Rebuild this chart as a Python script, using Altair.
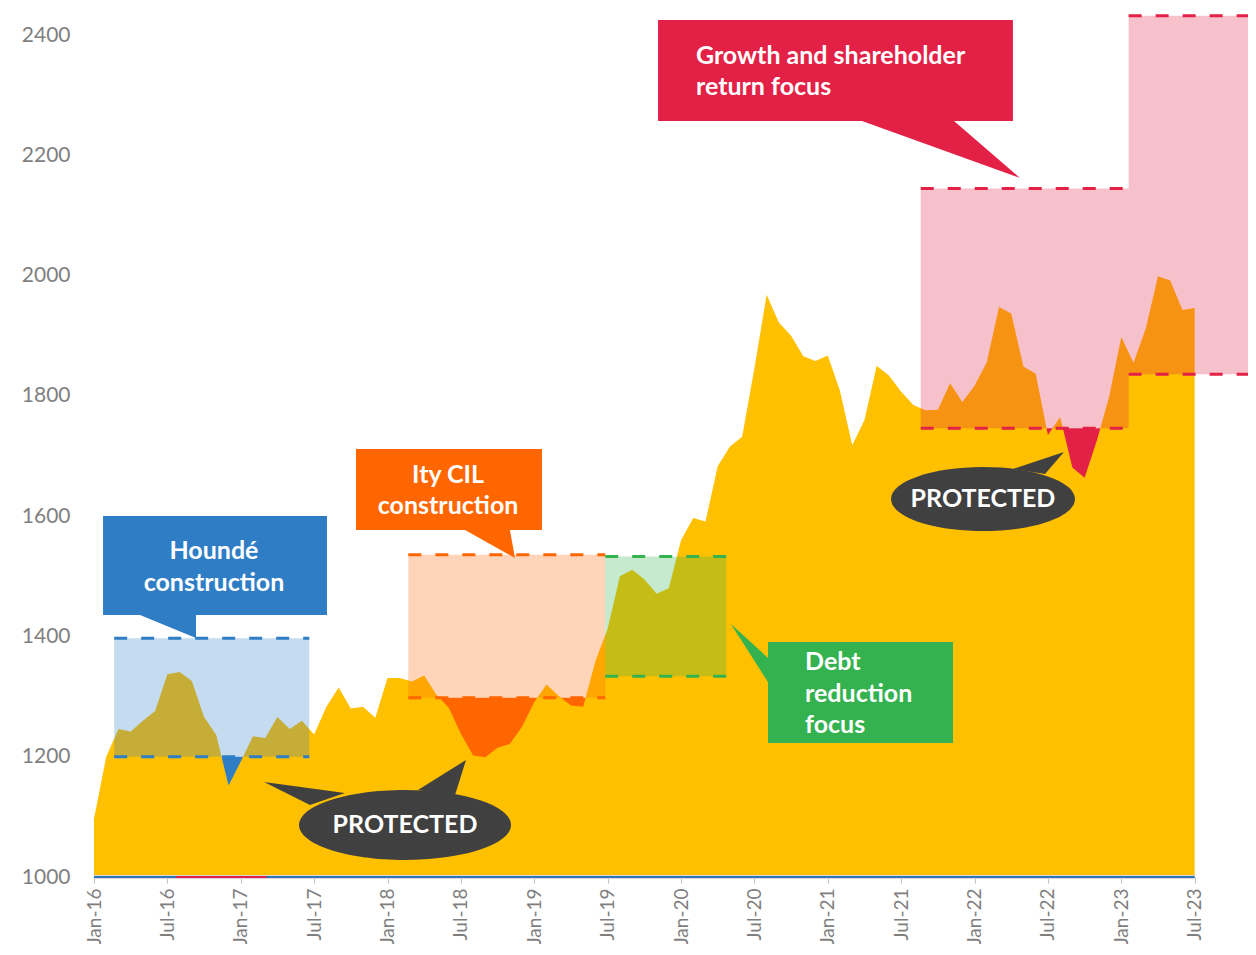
import json
import altair as alt
import pandas as pd

# ---------------- data ----------------
# monthly gold price (US$/oz), Jan-16 .. Jul-23 (month index 0..90)
price = [
    1097, 1200, 1246, 1242, 1260, 1276, 1337, 1341, 1326, 1266, 1236, 1152,
    1192, 1234, 1231, 1266, 1246, 1260, 1237, 1283, 1315, 1280, 1283, 1265,
    1331, 1331, 1325, 1335, 1303, 1282, 1238, 1202, 1199, 1215, 1221, 1250,
    1291, 1320, 1301, 1285, 1283, 1359, 1413, 1500, 1511, 1495, 1471, 1480,
    1560, 1597, 1591, 1683, 1716, 1732, 1846, 1968, 1922, 1900, 1866, 1858,
    1867, 1808, 1718, 1760, 1850, 1834, 1807, 1785, 1776, 1777, 1821, 1790,
    1817, 1856, 1948, 1937, 1849, 1837, 1735, 1765, 1681, 1664, 1726, 1798,
    1898, 1855, 1912, 1999, 1992, 1943, 1946,
]
months = list(range(len(price)))
tick_months = list(range(0, 91, 6))
tick_labels = ["Jan-16", "Jul-16", "Jan-17", "Jul-17", "Jan-18", "Jul-18", "Jan-19", "Jul-19",
               "Jan-20", "Jul-20", "Jan-21", "Jul-21", "Jan-22", "Jul-22", "Jan-23", "Jul-23"]
y_ticks = [1000, 1200, 1400, 1600, 1800, 2000, 2200, 2400]

# hedge / price-protection bands (month index start/end, floor, cap)
band_start = [1.65, 25.7, 41.8, 67.6, 84.6]
band_end = [17.6, 41.8, 51.7, 84.6, 94.4]
band_floor = [1200, 1298, 1334, 1746, 1836]
band_cap = [1397, 1536, 1533, 2145, 2432]
band_color = ["#2E7DC5", "#FF6600", "#33B24F", "#E32045", "#E32045"]
band_protected = [True, True, False, True, False]

# callout boxes (data units)
call_x0 = [0.74, 21.42, 55.11, 46.12]
call_x1 = [19.05, 36.63, 70.24, 75.14]
call_y0 = [1435.7, 1577.0, 1222.8, 2257.1]
call_y1 = [1600.3, 1711.7, 1390.8, 2425.0]
call_color = ["#2E7DC5", "#FF6600", "#33B24F", "#E32045"]

# callout pointers (triangles, data units)
ptr_id = ["b", "b", "b", "o", "o", "o", "g", "g", "g", "r", "r", "r",
          "p1", "p1", "p1", "p2", "p2", "p2", "p3", "p3", "p3"]
ptr_x = [3.76, 8.34, 8.34, 30.34, 34.42, 34.01, 52.08, 55.11, 55.11, 62.80, 70.32, 75.71,
         13.90, 20.52, 17.66, 30.42, 26.49, 29.52, 79.31, 75.14, 77.76]
ptr_y = [1435.7, 1397.4, 1435.7, 1577.0, 1530.4, 1577.0, 1420.7, 1364.2, 1324.2,
         2257.1, 2257.1, 2162.3, 1158.0, 1139.7, 1119.7, 1194.6, 1144.7, 1136.4,
         1706.7, 1678.4, 1670.1]
ptr_color = ["#2E7DC5"] * 3 + ["#FF6600"] * 3 + ["#33B24F"] * 3 + ["#E32045"] * 3 + ["#404040"] * 9

# callout text lines
txt = ["Houndé", "construction", "Ity CIL", "construction", "Debt", "reduction", "focus",
       "Growth and shareholder", "return focus"]
txt_x = [9.81, 9.81, 28.95, 28.95, 58.14, 58.14, 58.14, 49.22, 49.22]
txt_y = [1528.8, 1475.6, 1655.2, 1603.6, 1344.2, 1291.0, 1239.4, 2351.9, 2300.3]
txt_align = ["center", "center", "center", "center", "left", "left", "left", "left", "left"]

# "PROTECTED" bubbles
prot_x = [25.43, 72.69]
prot_y = [1086.5, 1628.5]
prot_text_y = [1073.2, 1615.0]
prot_w = [212, 184]
prot_ratio = [0.330, 0.348]

# ---------------- chart ----------------
xs = alt.Scale(domain=[0, 94.36], nice=False, zero=False)
ys = alt.Scale(domain=[1000, 2445], nice=False, zero=False)

label_expr = json.dumps(tick_labels) + "[round(datum.value/6)]"
AX = alt.Axis(values=tick_months, labelExpr=label_expr, labelAngle=270, domain=False,
              ticks=True, tickColor="#BFBFBF", tickSize=6, tickWidth=1, grid=False,
              labelFont="Lato", labelFontSize=19, labelColor="#7F7F7F", labelPadding=5,
              labelOverlap=False, title=None)
AY = alt.Axis(values=y_ticks, format="d", domain=False, ticks=False, grid=False,
              labelFont="Lato", labelFontSize=21, labelColor="#7F7F7F", labelPadding=24,
              title=None)


def X(f):
    return alt.X(f, scale=xs, axis=AX)


def Y(f):
    return alt.Y(f, scale=ys, axis=AY)


df_price = pd.DataFrame({"m": months, "price": price})
df_band = pd.DataFrame({"s": band_start, "e": band_end, "f": band_floor, "c": band_cap,
                        "col": band_color, "p": band_protected})
df_lines = pd.concat([
    pd.DataFrame({"s": band_start, "e": band_end, "v": band_floor, "col": band_color}),
    pd.DataFrame({"s": band_start, "e": band_end, "v": band_cap, "col": band_color}),
])
df_call = pd.DataFrame({"x0": call_x0, "x1": call_x1, "y0": call_y0, "y1": call_y1,
                        "col": call_color})
df_ptr = pd.DataFrame({"id": ptr_id, "x": ptr_x, "y": ptr_y, "col": ptr_color,
                       "i": list(range(len(ptr_id)))})
df_txt = pd.DataFrame({"t": txt, "x": txt_x, "y": txt_y, "a": txt_align})

protected = alt.Chart(df_band[df_band["p"]]).mark_rect().encode(
    x=X("s:Q"), x2="e:Q", y=Y("f:Q"), y2=alt.datum(1000),
    color=alt.Color("col:N", scale=None),
)

gold = alt.Chart(df_price).mark_area(color="#FFC000").encode(
    x=X("m:Q"), y=Y("price:Q"), y2=alt.datum(1000),
)

bands = alt.Chart(df_band).mark_rect(opacity=0.28).encode(
    x=X("s:Q"), x2="e:Q", y=Y("f:Q"), y2="c:Q",
    color=alt.Color("col:N", scale=None),
)

dashes = alt.Chart(df_lines).mark_rule(strokeWidth=3, strokeDash=[13, 14]).encode(
    x=X("s:Q"), x2="e:Q", y=Y("v:Q"),
    color=alt.Color("col:N", scale=None),
)

df_base = pd.DataFrame({"s": [0, 0, 6.7], "e": [90, 90, 14.1], "v": [1000, 1000, 1000],
                        "col": ["#D9D9D9", "#2E75B6", "#E32045"], "w": [4, 2, 2]})
baseline = alt.Chart(df_base).mark_rule().encode(
    x=X("s:Q"), x2="e:Q", y=Y("v:Q"),
    color=alt.Color("col:N", scale=None),
    strokeWidth=alt.StrokeWidth("w:Q", scale=None),
)

callouts = alt.Chart(df_call).mark_rect().encode(
    x=X("x0:Q"), x2="x1:Q", y=Y("y0:Q"), y2="y1:Q",
    color=alt.Color("col:N", scale=None),
)

pointers = alt.Chart(df_ptr).mark_line(filled=True, strokeWidth=0.5).encode(
    x=X("x:Q"), y=Y("y:Q"), detail="id:N", order="i:Q",
    color=alt.Color("col:N", scale=None),
)

bubbles = []
for cx, cy, w, r in zip(prot_x, prot_y, prot_w, prot_ratio):
    k = 0.5523
    path = (f"M-1,0 C-1,{-k*r:.4f} {-k:.4f},{-r:.4f} 0,{-r:.4f} "
            f"C{k:.4f},{-r:.4f} 1,{-k*r:.4f} 1,0 "
            f"C1,{k*r:.4f} {k:.4f},{r:.4f} 0,{r:.4f} "
            f"C{-k:.4f},{r:.4f} -1,{k*r:.4f} -1,0 Z")
    bubbles.append(
        alt.Chart(pd.DataFrame({"x": [cx], "y": [cy]})).mark_point(
            shape=path, size=w * w, filled=True, opacity=1, color="#404040", strokeWidth=0
        ).encode(x=X("x:Q"), y=Y("y:Q"))
    )

df_prot = pd.DataFrame({"x": prot_x, "y": prot_text_y, "t": ["PROTECTED", "PROTECTED"]})
prot_text = alt.Chart(df_prot).mark_text(
    font="Lato", fontWeight="bold", fontSize=25, color="white", align="center",
    baseline="alphabetic"
).encode(x=X("x:Q"), y=Y("y:Q"), text="t:N")

texts = []
for al in ["center", "left"]:
    texts.append(
        alt.Chart(df_txt[df_txt["a"] == al]).mark_text(
            font="Lato", fontWeight="bold", fontSize=25, color="white", align=al,
            baseline="alphabetic"
        ).encode(x=X("x:Q"), y=Y("y:Q"), text="t:N")
    )

chart = alt.layer(
    protected, gold, bands, dashes, baseline, callouts, pointers, *bubbles, prot_text, *texts
).properties(
    width=1154, height=869,
    padding={"left": 86, "top": 0, "right": 0, "bottom": 67},
    autosize=alt.AutoSizeParams(type="none"),
    view=alt.ViewBackground(stroke="transparent", strokeWidth=0, strokeOpacity=0),
).configure_view(stroke="transparent", strokeWidth=0, strokeOpacity=0).configure(
    background="white")

chart.save("out.html", embed_options={"renderer": "svg", "actions": False})
